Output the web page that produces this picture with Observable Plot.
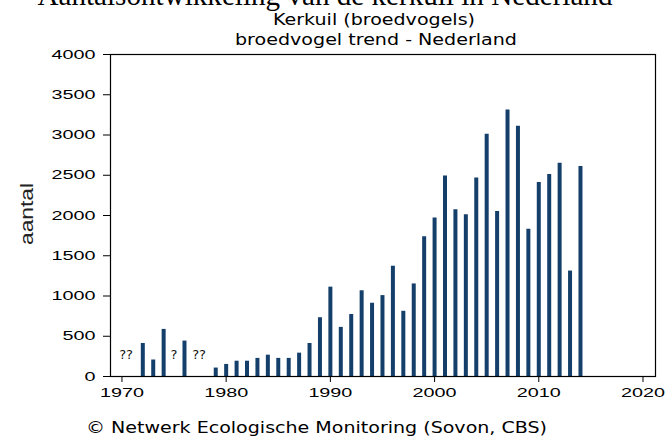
<!DOCTYPE html>
<html><head><meta charset="utf-8">
<script src="https://cdn.jsdelivr.net/npm/d3@7"></script>
<script src="https://cdn.jsdelivr.net/npm/@observablehq/plot@0.6"></script>
<style>
body{margin:0;background:#fff;}
#chart{position:relative;width:668px;height:441px;overflow:hidden;background:#fff;}
</style>
</head><body><div id="chart"></div>
<script>
// Data
const years  = [1972,1973,1974,1976,1979,1980,1981,1982,1983,1984,1985,1986,1987,1988,1989,1990,1991,1992,1993,1994,1995,1996,1997,1998,1999,2000,2001,2002,2003,2004,2005,2006,2007,2008,2009,2010,2011,2012,2013,2014];
const counts = [410,205,585,440,105,150,190,190,225,265,225,225,290,410,730,1110,610,770,1065,910,1005,1370,810,1150,1735,1970,2490,2070,2010,2465,3010,2050,3310,3110,1830,2410,2510,2650,1310,2610];
const unknownYears  = [1970.4, 1975, 1977.4];
const unknownLabels = ["??", "?", "??"];
const yTicks = [0,500,1000,1500,2000,2500,3000,3500,4000];
const xTicks = [1970,1980,1990,2000,2010,2020];
const titleText = "Aantalsontwikkeling van de kerkuil in Nederland";
const subtitleLines = ["Kerkuil (broedvogels)", "broedvogel trend - Nederland"];
const yLabelText = "aantal";
const captionText = "© Netwerk Ecologische Monitoring (Sovon, CBS)";

const data = years.map((y, i) => ({year: y, count: counts[i]}));
const unknown = unknownYears.map((y, i) => ({year: y, label: unknownLabels[i]}));

const plot = Plot.plot({
  width: 668, height: 441,
  marginLeft: 110, marginRight: 13, marginTop: 54, marginBottom: 65,
  style: {fontFamily: "'Liberation Sans', Arial, sans-serif", fontSize: "12.5px", color: "#000", background: "#fff", overflow: "visible"},
  x: {domain: [1968.9, 2021.2]},
  y: {domain: [0, 4000]},
  marks: [
    Plot.ruleX(data, {x: "year", y1: 0, y2: "count", stroke: "#143f6a", strokeWidth: 4}),
    Plot.text(unknown, {x: "year", text: "label", frameAnchor: "bottom", dy: -18, fontFamily: "'DejaVu Sans', sans-serif", fontSize: 13, fill: "#111"}),
    Plot.frame({stroke: "#000", strokeWidth: 1.2}),
    Plot.axisY({ticks: yTicks, tickSize: 7, tickPadding: 8, tickFormat: d3.format("d"), label: null, stroke: "#000"}),
    Plot.axisX({ticks: xTicks, tickSize: 6, tickPadding: 6, tickFormat: d3.format("d"), label: null, stroke: "#000"})
  ]
});

document.getElementById("chart").appendChild(plot);

const svg = d3.select(plot);
// stretched tick labels like the reference
svg.selectAll("g[aria-label='y-axis tick label'] text, g[aria-label='x-axis tick label'] text").each(function() {
  const t = this.textContent;
  this.setAttribute("textLength", t.length * 11);
  this.setAttribute("lengthAdjust", "spacingAndGlyphs");
});

function addText(txt, x, y, opts) {
  const el = svg.append("text").text(txt)
    .attr("x", x).attr("y", y)
    .attr("text-anchor", opts.anchor || "middle")
    .attr("font-family", opts.family)
    .attr("font-size", opts.size)
    .attr("fill", opts.fill || "#000");
  if (opts.length) el.attr("textLength", opts.length).attr("lengthAdjust", "spacingAndGlyphs");
  if (opts.rotate) el.attr("transform", `rotate(${opts.rotate},${x},${y})`);
  return el;
}
addText(titleText, 325, 5, {family: "'Liberation Serif', serif", size: 29, length: 575});
addText(subtitleLines[0], 374, 25, {family: "'DejaVu Sans', sans-serif", size: 15, length: 202});
addText(subtitleLines[1], 376, 45, {family: "'DejaVu Sans', sans-serif", size: 15, length: 282});
addText(yLabelText, 33, 214, {family: "'Liberation Sans', Arial, sans-serif", size: 18, length: 62, rotate: -90, fill: "#222"});
addText(captionText, 86, 433, {family: "'DejaVu Sans', sans-serif", size: 15, length: 461, anchor: "start"});
</script>
</body></html>
